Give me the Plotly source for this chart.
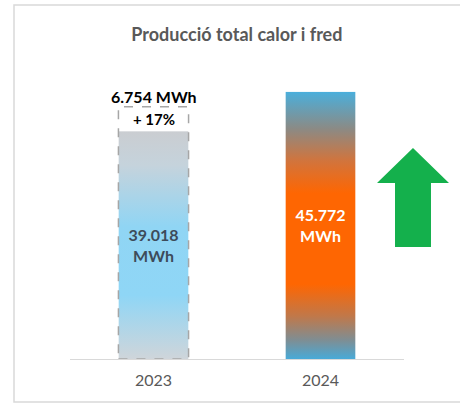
import base64
from plotly.graph_objects import Figure, Bar

years = ["2023", "2024"]
production = [39018, 45772]
increment = 6754
increment_pct = 17
title = "Producció total calor i fred"

FONT = "Lato"
BAR_W = 0.42
BOX_TOP = 43200  # top of the dashed "+17%" box


def fmt(v):
    return f"{v:,}".replace(",", ".")


def gradient_svg(stops):
    parts = "".join(f'<stop offset="{o}" stop-color="{c}"/>' for o, c in stops)
    svg = ('<svg xmlns="http://www.w3.org/2000/svg" width="10" height="100" preserveAspectRatio="none">'
           f'<defs><linearGradient id="g" x1="0" y1="0" x2="0" y2="1">{parts}</linearGradient></defs>'
           '<rect width="10" height="100" fill="url(#g)"/></svg>')
    return "data:image/svg+xml;base64," + base64.b64encode(svg.encode()).decode()


grad_2023 = gradient_svg([(0, "#cacdd1"), (0.15, "#c5d3dc"), (0.42, "#90d5f4"), (0.72, "#8fd6f6"), (1, "#cfd5da")])
grad_2024 = gradient_svg([(0, "#4aafdc"), (0.14, "#8c8a84"), (0.26, "#d2743c"), (0.38, "#fe6602"),
                          (0.72, "#fe6602"), (0.84, "#c0784a"), (0.93, "#7e8e94"), (1, "#48aad8")])


def draw_plot():
    fig = Figure()
    xs = list(range(len(years)))
    fig.add_trace(Bar(
        x=xs, y=production, width=BAR_W,
        marker=dict(color="rgba(0,0,0,0)", line=dict(width=0)),
        text=[f"<b>{fmt(v)}<br>MWh</b>" for v in production],
        textposition="inside", insidetextanchor="middle",
        textfont=dict(family=FONT, size=16, color=["#3d4b5a", "white"]),
        hoverinfo="skip",
    ))

    fig.update_layout(images=[
        dict(source=src, xref="x", yref="y", x=x - BAR_W / 2, y=v, sizex=BAR_W, sizey=v,
             xanchor="left", yanchor="top", sizing="stretch", layer="below")
        for x, v, src in zip(xs, production, [grad_2023, grad_2024])
    ])

    # dashed box on 2023 bar showing the increase
    fig.add_shape(type="rect", xref="x", yref="y", x0=-BAR_W / 2, x1=BAR_W / 2, y0=0, y1=BOX_TOP,
                  line=dict(color="#a6a6a6", width=1.5, dash="dash"))
    fig.add_annotation(x=0, y=BOX_TOP, yanchor="middle", yshift=10, showarrow=False,
                       text=f"<b>{fmt(increment)} MWh</b>", font=dict(family=FONT, size=16, color="black"))
    fig.add_annotation(x=0, y=(BOX_TOP + production[0]) / 2, showarrow=False,
                       text=f"<b>+ {increment_pct}%</b>", font=dict(family=FONT, size=15, color="black"))

    # green up arrow
    def px(x):
        return (x - 70) / 334

    def py(y):
        return (359 - y) / 292

    pts = [(395, 247), (395, 183), (377, 183), (413, 148), (449, 183), (431, 183), (431, 247)]
    path = "M " + " L ".join(f"{px(a):.4f},{py(b):.4f}" for a, b in pts) + " Z"
    fig.add_shape(type="path", xref="paper", yref="paper", path=path,
                  fillcolor="#14b04c", line=dict(width=0))

    # outer frame
    fig.add_shape(type="rect", xref="paper", yref="paper", x0=px(14), x1=px(470), y0=py(402), y1=py(5),
                  line=dict(color="#d9d9d9", width=1.5))

    fig.update_layout(
        width=460, height=403,
        margin=dict(l=70, r=56, t=67, b=44),
        paper_bgcolor="white", plot_bgcolor="rgba(0,0,0,0)",
        showlegend=False,
        title=dict(text=f"<b>{title}</b>", x=0.515, xanchor="center", y=1 - 35 / 403, yanchor="middle",
                   font=dict(family=FONT, size=18, color="#595959")),
        xaxis=dict(range=[-0.5, 1.5], tickvals=xs, ticktext=years, showgrid=False, zeroline=False,
                   showline=True, linecolor="#d9d9d9", linewidth=1, ticks="", ticklabelstandoff=7,
                   tickfont=dict(family=FONT, size=16, color="#595959")),
        yaxis=dict(range=[0, 50000], visible=False, showgrid=False, zeroline=False),
    )
    return fig


def main():
    fig = draw_plot()
    fig.write_html("out.html", config={"displayModeBar": False},
                   post_script="document.body.style.margin='0';")


if __name__ == "__main__":
    main()
